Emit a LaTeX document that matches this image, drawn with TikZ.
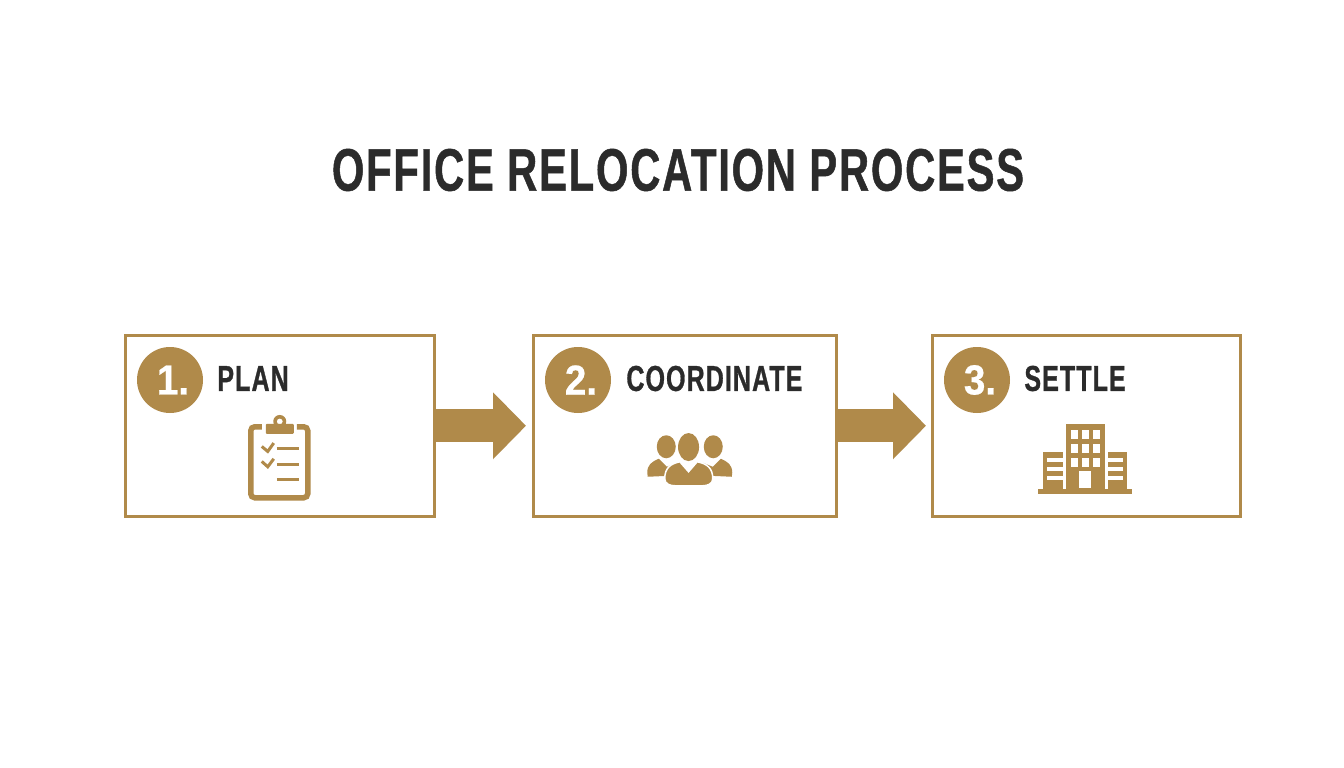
\documentclass[tikz,border=0pt]{standalone}
\usepackage{fontspec}
\usepackage{xcolor}
\usetikzlibrary{arrows.meta, positioning}
\setmainfont[FakeStretch=0.695,LetterSpace=3,FakeBold=0.8]{Liberation Sans}
\newfontfamily\badgefont[FakeStretch=0.92,FakeBold=0.5]{Liberation Sans}
\definecolor{gold}{HTML}{B08A4A}
\definecolor{ink}{HTML}{2B2B2B}
\tikzstyle{stagebox} = [rectangle, minimum height=180.5pt, inner sep=0pt, draw=gold, line width=3pt, fill=white]
\tikzstyle{badge} = [circle, minimum size=66pt, inner sep=0pt, fill=gold, text=white, font=\badgefont\fontsize{42}{42}\bfseries, execute at begin node=\kern6pt]
\tikzstyle{stagelabel} = [inner sep=0pt, text=ink, yshift=1.5pt, font=\fontsize{36}{36}\bfseries]
\tikzstyle{flow} = [-{Triangle[width=65pt,length=33pt]}, draw=gold, line width=33pt]
\tikzstyle{heading} = [inner sep=0pt, text=ink, font=\fontsize{60}{60}\bfseries]
\tikzset{
  clipboard-icon/.pic={
    \draw [gold, line width=5.5pt, rounded corners=4pt] (-18,1) -- (-29,1) -- (-29,72) -- (28,72) -- (28,1) -- (17,1);
    \fill [gold, rounded corners=1pt] (-14,-2) rectangle (14,8);
    \fill [gold, even odd rule] (0,-4.3) circle (6.5) (0,-4.3) circle (3);
    \draw [gold, line width=3pt] (-18,20.7) -- (-12,25.7) -- (-6,17.3);
    \draw [gold, line width=3pt] (-18,35.7) -- (-12,41) -- (-6,33);
    \foreach \liney in {23, 38.3, 54}
      \draw [gold, line width=3pt] (-3,\liney) -- (19,\liney);
  },
  team-icon/.pic={
    \fill [gold] (-18.5,21) ellipse (9.5 and 11.5);
    \fill [gold] (28.5,21) ellipse (9.5 and 11.5);
    % side shoulders
    \fill [gold] (-26,33) .. controls (-33,36) and (-37.5,39) .. (-37.5,47) -- (-37,51) -- (-15,50) -- (-8,37) -- (-18,41) -- cycle;
    \fill [gold] (36,33) .. controls (43,36) and (47.5,39) .. (47.5,47) -- (47,51) -- (25,50) -- (18,37) -- (28,41) -- cycle;
    % middle person
    \fill [gold, draw=white, line width=1.5pt] (3.8,46) -- (-5,36) .. controls (-14,38) and (-20,42) .. (-20,53) .. controls (-20,58) and (-15,60) .. (-10,60) -- (18,60) .. controls (23,60) and (28,58) .. (28,53) .. controls (28,42) and (22,38) .. (12.5,36) -- cycle;
    \fill [gold] (3.8,21.3) ellipse (10.5 and 14);
  },
  building-icon/.pic={
    \fill [gold] (-20,-2) rectangle (19,64);
    \fill [gold] (-48,63) rectangle (46,68);
    \fill [gold] (-43,26) rectangle (-23,64);
    \fill [gold] (22,26) rectangle (41,64);
    \foreach \winx in {-15, -4, 7}
      \foreach \winy in {4, 18, 32}
        \fill [white] (\winx,\winy) rectangle ++(7,9);
    \fill [white] (-7,45) rectangle (5,62);
    \foreach \sloty in {32, 41, 50} {
      \fill [white] (-39,\sloty) rectangle (-23,\sloty+4.5);
      \fill [white] (22,\sloty) rectangle (37,\sloty+4.5);
    }
  }
}
\begin{document}
\begin{tikzpicture}[x=1pt, y=-1pt]
\useasboundingbox [fill=white] (0,0) rectangle (1344,768);

% Title
\node (title) [heading] at (678,170) {OFFICE RELOCATION PROCESS};

% Stages
\node (plan-box) [stagebox, minimum width=308.5pt] at (279.75,425.75) {};
\node (coordinate-box) [stagebox, minimum width=302.5pt, right=96.5pt of plan-box] {};
\node (settle-box) [stagebox, minimum width=307.5pt, right=93.5pt of coordinate-box] {};

% Badges
\node (plan-badge) [badge] at ([xshift=46pt, yshift=-46pt]plan-box.north west) {1.};
\node (coordinate-badge) [badge] at ([xshift=46pt, yshift=-46pt]coordinate-box.north west) {2.};
\node (settle-badge) [badge] at ([xshift=46pt, yshift=-46pt]settle-box.north west) {3.};

% Labels
\node (plan-label) [stagelabel, right=14pt of plan-badge] {PLAN};
\node (coordinate-label) [stagelabel, right=15pt of coordinate-badge] {COORDINATE};
\node (settle-label) [stagelabel, right=14pt of settle-badge] {SETTLE};

% Icons
\pic at (plan-box.center) {clipboard-icon};
\pic at (coordinate-box.center) {team-icon};
\pic at (settle-box.center) {building-icon};

% Arrows
\draw [flow, shorten >=6pt] (plan-box.east) -- (coordinate-box.west);
\draw [flow, shorten >=5pt] (coordinate-box.east) -- (settle-box.west);

\end{tikzpicture}
\end{document}
